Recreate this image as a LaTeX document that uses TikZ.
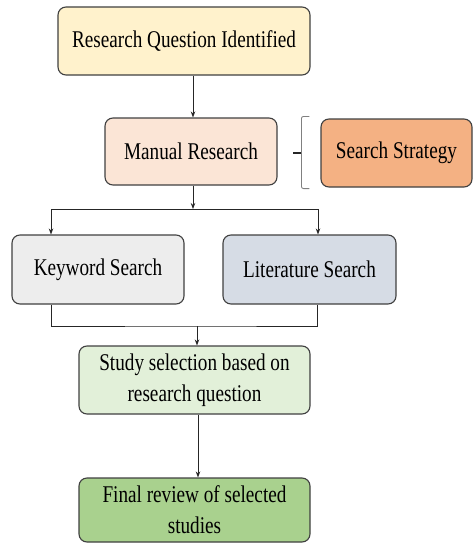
\documentclass[tikz,border=0pt]{standalone}
\usepackage{fontspec}
\setmainfont{Liberation Serif}[FakeStretch=0.8]
\usetikzlibrary{arrows.meta}
\definecolor{boxline}{HTML}{404040}
\definecolor{rqfill}{HTML}{FFF2CC}
\definecolor{manfill}{HTML}{FBE5D6}
\definecolor{stratfill}{HTML}{F4B183}
\definecolor{kwfill}{HTML}{EDEDED}
\definecolor{litfill}{HTML}{D6DCE5}
\definecolor{selfill}{HTML}{E2F0D9}
\definecolor{finfill}{HTML}{A9D18E}
\tikzset{
    box/.style={draw=boxline,line width=1.1pt,rounded corners=8pt,align=center,inner sep=0pt,font=\fontsize{24}{31}\selectfont},
    flow/.style={-{Stealth[length=6pt,width=4.5pt]},line width=0.8pt,black!85},
    link/.style={line width=0.8pt,black!85},
    bracket/.style={line width=0.9pt,gray,rounded corners=2pt},
    tick/.style={line width=1.2pt,black!85}
}
\def\lane{-209}
\def\join{-326}

\begin{document}
\begin{tikzpicture}[x=1pt,y=1pt]
  \useasboundingbox (0,0) rectangle (474,-543);

  % Boxes
  \node[box,fill=rqfill,minimum width=252pt,minimum height=68pt] (rqi) at (184,-41) {Research Question Identified};
  \node[box,fill=manfill,minimum width=172pt,minimum height=67pt] (manual) at (191,-151.5) {Manual Research};
  \node[box,fill=stratfill,minimum width=151pt,minimum height=68pt] (strat) at (396.5,-153) {Search Strategy};
  \node[box,fill=kwfill,minimum width=172pt,minimum height=69pt] (kws) at (98,-269.5) {Keyword Search};
  \node[box,fill=litfill,minimum width=173pt,minimum height=69pt] (lits) at (309.5,-269.5) {Literature Search};
  \node[box,fill=selfill,minimum width=231pt,minimum height=68pt] (sel) at (194.5,-380) {Study selection based on\\research question};
  \node[box,fill=finfill,minimum width=231pt,minimum height=64pt] (fin) at (194.5,-510) {Final review of selected\\studies};

  % Brace
  \draw[bracket] ([shift={(-11pt,2pt)}]strat.north west) -- ++(-8,0) |- ([shift={(-11pt,-1pt)}]strat.south west);
  \draw[tick] ([xshift=-19pt]strat.west) -- ++(-8,0);

  % Split
  \coordinate (split) at (193,\lane);
  \coordinate (kwin) at ([xshift=-47pt]kws.north);
  \coordinate (litin) at ([xshift=8.5pt]lits.north);
  \draw[flow] (rqi.south -| split) -- (manual.north -| split);
  \draw[flow] (manual.south -| split) -- (split);
  \draw[link] (kwin |- split) -- (litin |- split);
  \draw[flow] (kwin |- split) -- (kwin);
  \draw[flow] (litin |- split) -- (litin);

  % Merge
  \coordinate (merge) at (197,\join);
  \coordinate (kwout) at ([xshift=-47pt]kws.south);
  \coordinate (litout) at ([xshift=8pt]lits.south);
  \draw[link] (kwout) |- (merge) -| (litout);
  \draw[flow] (merge) -- (merge |- sel.north);
  \draw[flow] (sel.south -| 198,0) -- (fin.north -| 198,0);
\end{tikzpicture}
\end{document}
